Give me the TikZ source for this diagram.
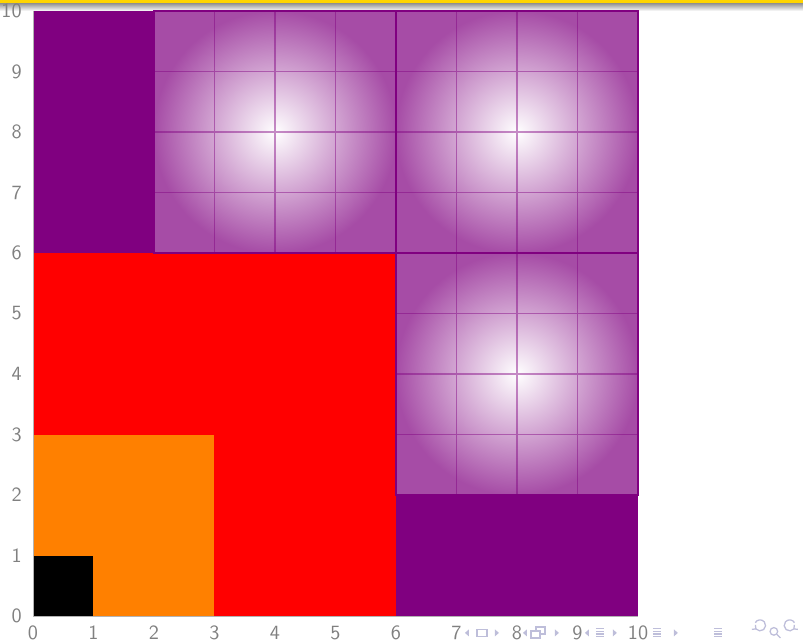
\documentclass[tikz,border=0pt]{standalone}
\usetikzlibrary{arrows.meta}
\definecolor{hdrY}{HTML}{FFD500}
\definecolor{labC}{HTML}{808080}
\definecolor{navC}{HTML}{BEBEDA}
\definecolor{plum}{HTML}{800080}
\definecolor{tangerine}{HTML}{FF8000}
\tikzset{
  tile/.style={draw=plum,line width=0.9pt,inner color=white,outer color=plum!70!white},
  tilegrid/.style={plum,line width=0.5pt,opacity=0.45},
  axlab/.style={font=\fontsize{9.5}{10}\selectfont\sffamily,text=labC,inner sep=0pt},
  navsym/.style={navC,line width=0.6pt},
}

\begin{document}
\begin{tikzpicture}
\useasboundingbox (-0.545,-0.413) rectangle (12.727,10.182);

% ---------- slide header ----------
\fill[hdrY] (-0.545,10.12) rectangle (12.727,10.182);
\shade[top color=gray!80,bottom color=white] (-0.545,10.0) rectangle (12.727,10.12);

% ---------- nested squares ----------
\fill[plum] (0,0) rectangle (10,10);
\fill[red] (0,0) rectangle (6,6);
\fill[tangerine] (0,0) rectangle (3,3);
\fill[black] (0,0) rectangle (1,1);

% ---------- shaded tiles ----------
\foreach \tx/\ty in {2/6,6/6,6/2}{
  \draw[tile] (\tx,\ty) rectangle ({\tx+4},{\ty+4});
  \draw[tilegrid] (\tx,\ty) grid ({\tx+4},{\ty+4});
}

% ---------- axes ----------
\draw[labC!60,line width=0.4pt] (0,10) -- (0,0) -- (10,0);
\foreach \i in {0,...,10}{
  \node[axlab,anchor=north] (xl\i) at (\i,-0.16) {\i};
  \node[axlab,anchor=east] (yl\i) at (-0.18,\i) {\i};
}

% ---------- navigation symbols ----------
\begin{scope}[shift={(-0.545cm,10.182cm)},x=0.016529cm,y=-0.016529cm]
  \foreach \px in {467,525,587}
    \fill[navC] ({\px+2},629.5) -- ({\px+2},636.5) -- ({\px-2},633) -- cycle;
  \foreach \px in {497,557,615,676}
    \fill[navC] ({\px-2},629.5) -- ({\px-2},636.5) -- ({\px+2},633) -- cycle;
  \draw[navsym] (477,629.5) rectangle (487,636.5);
  \draw[navsym,fill=white] (536,627) rectangle (545,634);
  \draw[navsym,fill=white] (531,631) rectangle (540,638);
  \foreach \px in {600,657,718}
    \foreach \k in {0,...,3}
      \draw[navsym] ({\px-4},{628.5+2.8*\k}) -- ({\px+4},{628.5+2.8*\k});
  \draw[navsym] (756,629) arc[start angle=140,end angle=-150,radius=5.5];
  \draw[navsym] (756,629) -- (752,629.5) (756,629) -- (755.5,625);
  \draw[navsym] (774,631.5) circle (3.8);
  \draw[navsym] (777,634.5) -- (780.5,638);
  \draw[navsym] (794,629) arc[start angle=40,end angle=330,radius=5.5];
  \draw[navsym] (794,629) -- (798,629.5) (794,629) -- (794.5,625);
\end{scope}
\end{tikzpicture}
\end{document}
